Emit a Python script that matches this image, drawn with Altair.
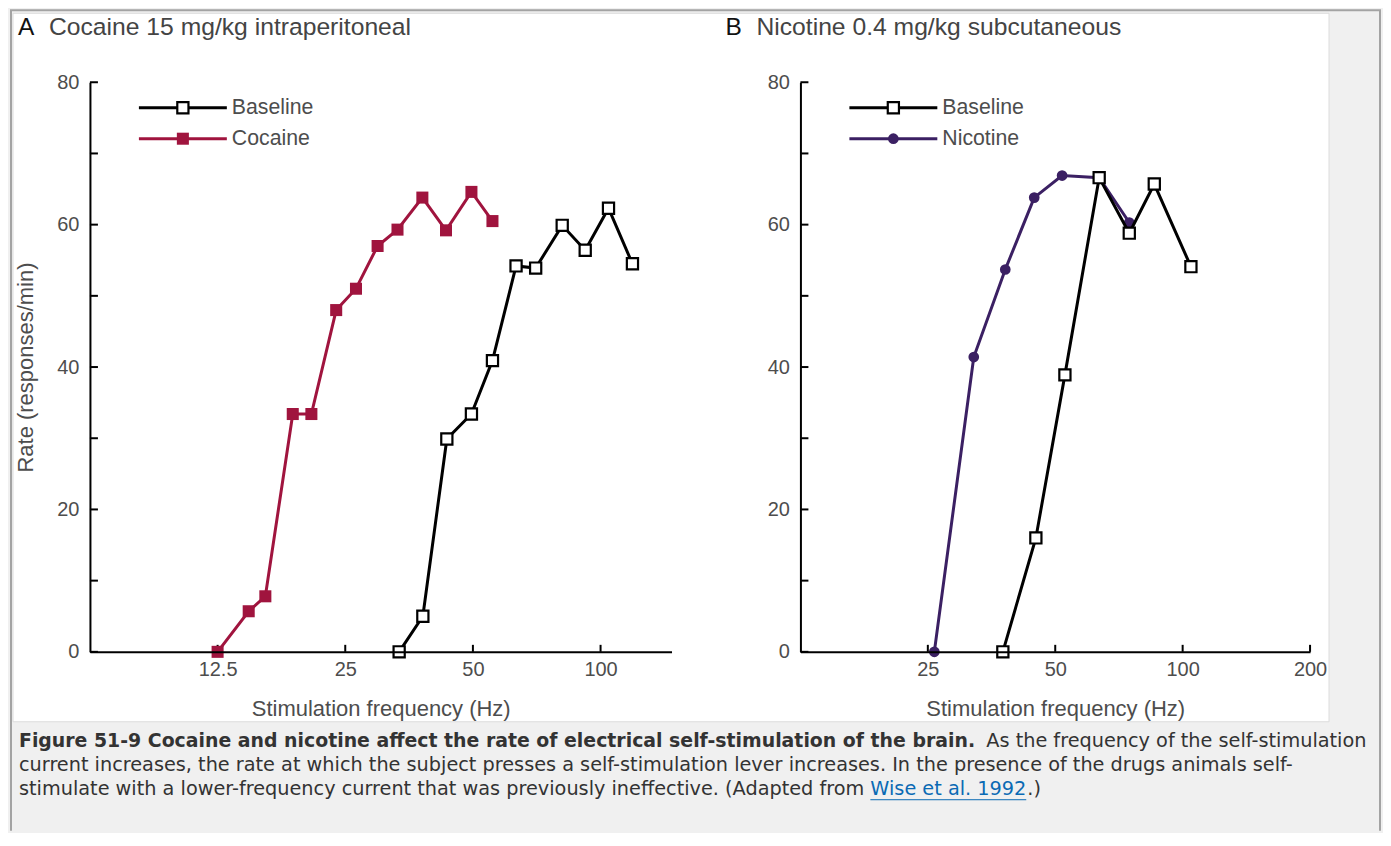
import altair as alt
import pandas as pd

# ---------------- data ----------------
coc_freq = [12.5, 14.8, 16.2, 18.8, 20.8, 23.8, 26.5, 29.8, 33.2, 38.0, 43.2, 49.6, 55.6]
coc_rate = [0, 5.7, 7.8, 33.4, 33.4, 48.0, 51.0, 57.0, 59.3, 63.8, 59.2, 64.6, 60.5]
baseA_freq = [33.5, 38.1, 43.4, 49.6, 55.6, 63.2, 70.3, 81.2, 92.0, 104.4, 118.9]
baseA_rate = [0, 5.0, 29.9, 33.4, 40.9, 54.2, 53.9, 59.9, 56.4, 62.3, 54.5]
nic_freq = [25.9, 32.1, 38.1, 44.6, 51.9, 63.5, 74.8]
nic_rate = [0, 41.4, 53.7, 63.8, 66.9, 66.6, 60.3]
baseB_freq = [37.6, 45.0, 52.7, 63.5, 74.8, 85.7, 104.6]
baseB_rate = [0, 16.0, 38.9, 66.6, 58.8, 65.7, 54.1]

xticks_A = [12.5, 25, 50, 100]
xticks_B = [25, 50, 100, 200]
yticks = [0, 10, 20, 30, 40, 50, 60, 70, 80]
ylabels = [0, 20, 40, 60, 80]
domain_A = [6.25, 147]
domain_B = [12.5, 200]

caption_bold = "Figure 51-9 Cocaine and nicotine affect the rate of electrical self-stimulation of the brain."
caption_1 = "As the frequency of the self-stimulation"
caption_2 = ("current increases, the rate at which the subject presses a self-stimulation lever "
             "increases. In the presence of the drugs animals self-")
caption_3 = "stimulate with a lower-frequency current that was previously ineffective. (Adapted from"
caption_link = "Wise et al. 1992"
caption_end = ".)"

# ---------------- style ----------------
FONT = "Liberation Sans"
GREY = "#4d4d4d"
COC = "#a0143e"
NIC = "#3b2063"
W_A, W_B, H = 582, 510, 570

one = pd.DataFrame({"k": [0]})


def df(f, r):
    return pd.DataFrame({"f": f, "r": r})


def text(x, y, s, size=21, color=GREY, weight="normal", font=FONT, align="left"):
    return alt.Chart(one).mark_text(
        text=s, font=font, fontSize=size, color=color, fontWeight=weight,
        align=align, baseline="middle"
    ).encode(x=alt.value(x), y=alt.value(y))


def marker(data, shape, color, hollow):
    if hollow:
        return alt.Chart(data).mark_point(shape=shape, filled=True, fill="white", stroke=color,
                                          strokeWidth=2.2, size=125, opacity=1)
    size = 145 if shape == "square" else 115
    return alt.Chart(data).mark_point(shape=shape, filled=True, color=color, size=size, opacity=1)


def legend_entry(y, label, color, shape, hollow):
    line = alt.Chart(one).mark_rule(color=color, strokeWidth=3).encode(
        x=alt.value(49), x2=alt.value(137), y=alt.value(y))
    pt = marker(one, shape, color, hollow).encode(x=alt.value(93), y=alt.value(y))
    return [line, pt, text(142, y, label, size=21.3)]


def panel(width, domain, xticks, series, legend, letter, title, ytitle, bg=False):
    xkw = dict(values=xticks, format="~g", ticks=False, grid=False, domainColor="black",
               domainWidth=2, labelFont=FONT, labelFontSize=20, labelColor=GREY,
               labelPadding=8, labelFlush=False, title="Stimulation frequency (Hz)",
               titleFont=FONT, titleFontSize=22, titleFontWeight="normal", titleColor=GREY,
               titleX=width / 2, titleY=57, titleBaseline="middle", titleAlign="center",
               zindex=1)
    ykw = dict(values=ylabels, ticks=False, grid=False, domainColor="black", domainWidth=2,
               labelFont=FONT, labelFontSize=20, labelColor=GREY, labelPadding=11,
               labelFlush=False, zindex=1)
    if ytitle:
        ykw.update(title="Rate (responses/min)", titleFont=FONT, titleFontSize=22,
                   titleFontWeight="normal", titleColor=GREY, titleX=-64, titleY=H / 2,
                   titleAngle=270, titleBaseline="middle", titleAlign="center")
    else:
        ykw.update(title=None)
    X = alt.X("f:Q", scale=alt.Scale(type="log", domain=domain, nice=False), axis=alt.Axis(**xkw))
    Y = alt.Y("r:Q", scale=alt.Scale(domain=[0, 80], nice=False, zero=False), axis=alt.Axis(**ykw))

    layers = []
    if bg:
        layers.append(alt.Chart(one).mark_rect(fill="white", stroke="#dcdcdc", strokeWidth=1).encode(
            x=alt.value(-77), x2=alt.value(1240), y=alt.value(-69), y2=alt.value(640)))
    layers.append(alt.Chart(pd.DataFrame({"f": xticks})).mark_rule(color="black", strokeWidth=2).encode(
        x=X, y=alt.value(H), y2=alt.value(H - 7)))
    layers.append(alt.Chart(pd.DataFrame({"r": yticks})).mark_rule(color="black", strokeWidth=2).encode(
        y=Y, x=alt.value(0), x2=alt.value(8)))
    for d, color, shape, hollow in series:
        layers.append(alt.Chart(d).mark_line(color=color, strokeWidth=3).encode(x=X, y=Y, order="f:Q"))
        layers.append(marker(d, shape, color, hollow).encode(x=X, y=Y))
    for i, (label, color, shape, hollow) in enumerate(legend):
        layers += legend_entry(25.5 + 31 * i, label, color, shape, hollow)
    layers.append(text(letter[1], -54, letter[0], size=24.5, color="#111"))
    layers.append(text(letter[1] + 31, -54, title, size=24.7, color="#444"))
    return alt.layer(*layers).properties(width=width, height=H)


panel_A = panel(
    W_A, domain_A, xticks_A,
    [(df(coc_freq, coc_rate), COC, "square", False),
     (df(baseA_freq, baseA_rate), "black", "square", True)],
    [("Baseline", "black", "square", True), ("Cocaine", COC, "square", False)],
    ("A", -72), "Cocaine 15 mg/kg intraperitoneal", True, bg=True)

panel_B = panel(
    W_B, domain_B, xticks_B,
    [(df(nic_freq, nic_rate), NIC, "circle", False),
     (df(baseB_freq, baseB_rate), "black", "square", True)],
    [("Baseline", "black", "square", True), ("Nicotine", NIC, "circle", False)],
    ("B", -75), "Nicotine 0.4 mg/kg subcutaneous", False)

CF = "DejaVu Sans"
CC = "#333333"
LINK = "#0a6ab4"
FS = 19.3
cap_layers = [
    text(-71, 18, caption_bold, size=18.9, color=CC, weight="bold", font=CF),
    text(897, 18, caption_1, size=FS, color=CC, font=CF),
    text(-71, 42, caption_2, size=FS, color=CC, font=CF),
    text(-71, 66, caption_3, size=FS, color=CC, font=CF),
    text(781, 66, caption_link, size=FS, color=LINK, font=CF),
    text(938, 66, caption_end, size=FS, color=CC, font=CF),
    alt.Chart(one).mark_rule(color=LINK, strokeWidth=1).encode(
        x=alt.value(781), x2=alt.value(937), y=alt.value(77)),
    # frame lines
    alt.Chart(one).mark_rule(color="#a3a3a3", strokeWidth=2).encode(
        x=alt.value(-79), y=alt.value(-713), y2=alt.value(108)),
    alt.Chart(one).mark_rule(color="#a3a3a3", strokeWidth=2).encode(
        x=alt.value(-80), x2=alt.value(1292), y=alt.value(-713)),
    alt.Chart(one).mark_rule(color="#a3a3a3", strokeWidth=2).encode(
        x=alt.value(1291), y=alt.value(-713), y2=alt.value(108)),
]
caption = alt.layer(*cap_layers).properties(width=1200, height=100)

chart = alt.vconcat(
    alt.hconcat(panel_A, panel_B, spacing=129, bounds="flush"),
    caption, spacing=H + 71, bounds="flush"
).properties(background="#f0f0f0", padding=0).configure_view(stroke="transparent")

chart.save("out.html", embed_options={"renderer": "svg", "actions": False})
